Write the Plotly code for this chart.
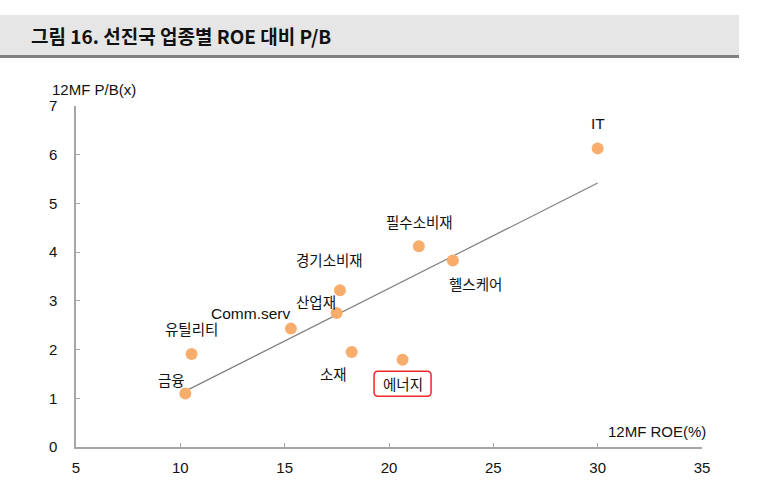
import numpy as np
import plotly.graph_objects as go

# ---- data ----
sectors = ["금융", "유틸리티", "Comm.serv", "산업재", "소재", "에너지",
           "경기소비재", "필수소비재", "헬스케어", "IT"]
roe = [10.24, 10.54, 15.30, 17.49, 18.21, 20.65, 17.65, 21.43, 23.06, 30.00]
pb = [1.10, 1.91, 2.43, 2.75, 1.95, 1.79, 3.22, 4.12, 3.83, 6.13]
x_ticks = [5, 10, 15, 20, 25, 30, 35]
y_ticks = [0, 1, 2, 3, 4, 5, 6, 7]

W, H = 762, 494
L, R, T, B = 76, 60, 106, 47
PW, PH = W - L - R, H - T - B


def px(x):
    return (x - L) / PW


def py(y):
    return 1 - (y - T) / PH


# label offsets (pixels) relative to each point
offsets = {
    "금융": (-14, 14), "유틸리티": (0, 25), "Comm.serv": (-40, 15),
    "산업재": (-21, 12), "소재": (-18, -21), "에너지": (0, -24),
    "경기소비재": (-10, 31), "필수소비재": (1, 25), "헬스케어": (23, -23),
    "IT": (0, 25),
}

font_kr = "Noto Sans CJK KR, Liberation Sans, sans-serif"
font_num = "Liberation Sans, Arial, sans-serif"

fig = go.Figure()

# trend line (OLS fit of data)
slope, intercept = np.polyfit(roe, pb, 1)
xl = np.array([min(roe), max(roe)])
fig.add_trace(go.Scatter(x=xl, y=slope * xl + intercept, mode="lines",
                         line=dict(color="#808080", width=1.2),
                         hoverinfo="skip", showlegend=False))

fig.add_trace(go.Scatter(x=roe, y=pb, mode="markers",
                         marker=dict(color="#F9AD6C", size=12),
                         showlegend=False))

annotations = []
for s, xv, yv in zip(sectors, roe, pb):
    dx, dy = offsets[s]
    latin = s.isascii()
    annotations.append(dict(x=xv, y=yv, xref="x", yref="y", text=s,
                            showarrow=False, xshift=dx, yshift=dy,
                            font=dict(family=font_num if latin else font_kr,
                                      size=15.5 if latin else 14.5,
                                      color="#111111")))

# axis captions
annotations.append(dict(x=px(50), y=py(89), xref="paper", yref="paper",
                        text="12MF P/B(x)", showarrow=False, xanchor="left",
                        yanchor="middle",
                        font=dict(family=font_num, size=15, color="#111111")))
annotations.append(dict(x=px(708), y=py(431), xref="paper", yref="paper",
                        text="12MF ROE(%)", showarrow=False, xanchor="right",
                        yanchor="middle",
                        font=dict(family=font_num, size=15, color="#111111")))
# title
annotations.append(dict(x=px(29), y=py(36), xref="paper", yref="paper",
                        text="<b>그림 16. 선진국 업종별 ROE 대비 P/B</b>",
                        showarrow=False, xanchor="left", yanchor="middle",
                        font=dict(family=font_kr, size=19, color="#111111")))

shapes = [
    dict(type="rect", xref="paper", yref="paper", x0=px(0), x1=px(739),
         y0=py(55), y1=py(15), fillcolor="#E6E6E6", line=dict(width=0),
         layer="below"),
    dict(type="rect", xref="paper", yref="paper", x0=px(0), x1=px(739),
         y0=py(58), y1=py(55), fillcolor="#808080", line=dict(width=0),
         layer="below"),
]

# rounded red box around 에너지 label
ei = sectors.index("에너지")
bw, bh, r = 28.5, 12.5, 4
cx, cy = 0, -24
x0, x1, y0, y1 = cx - bw, cx + bw, cy - bh, cy + bh
path = (f"M {x0 + r},{y0} L {x1 - r},{y0} Q {x1},{y0} {x1},{y0 + r} "
        f"L {x1},{y1 - r} Q {x1},{y1} {x1 - r},{y1} L {x0 + r},{y1} "
        f"Q {x0},{y1} {x0},{y1 - r} L {x0},{y0 + r} Q {x0},{y0} {x0 + r},{y0} Z")
shapes.append(dict(type="path", xref="x", yref="y", xsizemode="pixel",
                   ysizemode="pixel", xanchor=roe[ei], yanchor=pb[ei],
                   path=path, line=dict(color="#F0262B", width=1.5)))

axis_common = dict(showgrid=False, zeroline=False, showline=True,
                   linecolor="#A6A6A6", linewidth=1.5, ticks="inside",
                   ticklen=4, tickcolor="#A6A6A6", tickwidth=1,
                   tickfont=dict(family=font_num, size=15, color="#111111"))

fig.update_layout(
    width=W, height=H,
    margin=dict(l=L, r=R, t=T, b=B),
    paper_bgcolor="white", plot_bgcolor="white",
    xaxis=dict(range=[5, 35], tickvals=x_ticks, ticklabelstandoff=6,
               **axis_common),
    yaxis=dict(range=[0, 7], tickvals=y_ticks, ticklabelstandoff=14,
               **axis_common),
    annotations=annotations,
    shapes=shapes,
)

fig.write_html("out.html", config={"displayModeBar": False},
               post_script="document.body.style.margin='0';"
                           "document.body.style.padding='0';")
